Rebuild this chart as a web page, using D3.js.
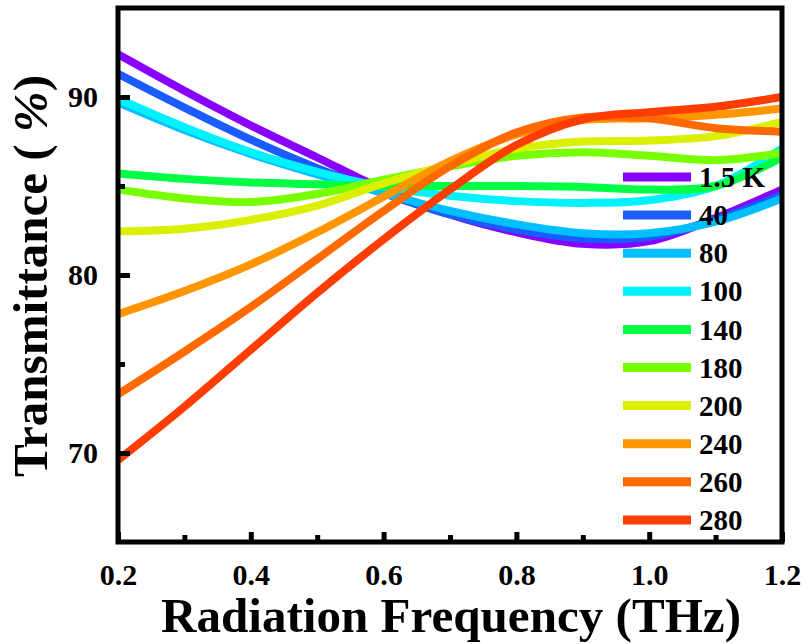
<!DOCTYPE html>
<html>
<head>
<meta charset="utf-8">
<script src="https://cdn.jsdelivr.net/npm/d3@7"></script>
<style>
  body { margin: 0; background: #fff; }
</style>
</head>
<body>
<div id="chart-area"></div>
<script>
// frequency points (THz)
var freq = [0.2, 0.3, 0.4, 0.5, 0.6, 0.7, 0.8, 0.9, 1.0, 1.1, 1.2];

// transmittance (%) for each temperature
var t1_5 = [92.4, 90.35, 88.4, 86.6, 84.8, 83.4, 82.4, 81.75, 81.9, 83.2, 84.8];
var t40  = [91.3, 89.4, 87.6, 86.0, 84.6, 83.4, 82.55, 82.05, 82.15, 83.1, 84.5];
var t80  = [89.7, 88.15, 86.8, 85.65, 84.6, 83.6, 82.85, 82.35, 82.35, 83.0, 84.3];
var t100 = [89.9, 88.3, 86.9, 85.8, 84.95, 84.45, 84.15, 84.05, 84.2, 85.0, 87.1];
var t140 = [85.7, 85.4, 85.2, 85.1, 85.0, 85.0, 85.0, 84.95, 84.8, 85.0, 86.6];
var t180 = [84.8, 84.3, 84.1, 84.55, 85.35, 86.1, 86.7, 86.9, 86.7, 86.45, 86.85];
var t200 = [82.45, 82.6, 83.1, 83.9, 85.15, 86.2, 87.1, 87.5, 87.55, 87.8, 88.6];
var t240 = [77.8, 79.1, 80.6, 82.4, 84.4, 86.4, 87.9, 88.7, 88.8, 89.0, 89.35];
var t260 = [73.3, 75.7, 78.2, 80.9, 83.6, 86.1, 88.0, 88.85, 88.8, 88.25, 88.05];
var t280 = [69.6, 72.6, 75.8, 79.0, 82.0, 84.8, 87.3, 88.75, 89.15, 89.45, 90.0];

var labels = ["1.5 K", "40", "80", "100", "140", "180", "200", "240", "260", "280"];
var series = [t1_5, t40, t80, t100, t140, t180, t200, t240, t260, t280];
var colors = ["#8800ff", "#1a5cff", "#00bfff", "#00f2ff", "#00ff44",
              "#77ff00", "#daf000", "#ff9500", "#ff6a00", "#ff3d00"];

var xMajor = [0.2, 0.4, 0.6, 0.8, 1.0, 1.2],
    xMinor = [0.3, 0.5, 0.7, 0.9, 1.1],
    yMajor = [70, 80, 90],
    yMinor = [75, 85];

var margin = {top: 8, right: 25, bottom: 102, left: 118},
    width = 807 - margin.left - margin.right,
    height = 644 - margin.top - margin.bottom;

var font = "'Liberation Serif', 'Times New Roman', serif";

var svg = d3.select("#chart-area")
  .append("svg")
    .attr("width", width + margin.left + margin.right)
    .attr("height", height + margin.top + margin.bottom)
  .append("g")
    .attr("transform", "translate(" + margin.left + "," + margin.top + ")");

var x = d3.scaleLinear().domain([0.2, 1.2]).range([0, width]);
var y = d3.scaleLinear().domain([65, 95]).range([height, 0]);

svg.append("clipPath").attr("id", "clip")
  .append("rect").attr("width", width).attr("height", height);

// curves
var line = d3.line()
    .x(function(d, i) { return x(freq[i]); })
    .y(function(d) { return y(d); })
    .curve(d3.curveCatmullRom.alpha(0.5));

svg.append("g")
    .attr("clip-path", "url(#clip)")
  .selectAll("path")
  .data(series)
  .enter()
  .append("path")
    .attr("d", line)
    .attr("fill", "none")
    .attr("stroke", function(d, i) { return colors[i]; })
    .attr("stroke-width", 8);

// axes (ticks point inward)
function styleAxis(g) {
  g.select(".domain").remove();
  g.selectAll(".tick line").attr("stroke", "#000").attr("stroke-width", 5);
  g.selectAll("text")
    .attr("font-family", font)
    .attr("font-weight", "bold")
    .attr("font-size", "30px")
    .attr("fill", "#000");
}

svg.append("g")
    .attr("transform", "translate(0," + height + ")")
    .call(d3.axisBottom(x).tickValues(xMajor).tickSize(-10).tickPadding(22).tickFormat(d3.format(".1f")))
    .call(styleAxis);

svg.append("g")
    .attr("transform", "translate(0," + height + ")")
    .call(d3.axisBottom(x).tickValues(xMinor).tickSize(-7).tickFormat(""))
    .call(styleAxis);

svg.append("g")
    .call(d3.axisLeft(y).tickValues(yMajor).tickSize(-12).tickPadding(20))
    .call(styleAxis);

svg.append("g")
    .call(d3.axisLeft(y).tickValues(yMinor).tickSize(-7).tickFormat(""))
    .call(styleAxis);

// frame
svg.append("rect")
    .attr("width", width)
    .attr("height", height)
    .attr("fill", "none")
    .attr("stroke", "#000")
    .attr("stroke-width", 5);

// legend
var legend = svg.append("g").attr("transform", "translate(505,169)");
var rows = legend.selectAll("g")
  .data(labels)
  .enter()
  .append("g")
    .attr("transform", function(d, i) { return "translate(0," + (i * 38.1) + ")"; });

rows.append("line")
    .attr("x1", 0).attr("x2", 68)
    .attr("stroke", function(d, i) { return colors[i]; })
    .attr("stroke-width", 9);

rows.append("text")
    .attr("x", 76)
    .attr("dy", "0.35em")
    .attr("font-family", font)
    .attr("font-weight", "bold")
    .attr("font-size", "29px")
    .text(function(d) { return d; });

// axis titles
svg.append("text")
    .attr("x", width / 2 + 1)
    .attr("y", height + 90)
    .attr("text-anchor", "middle")
    .attr("font-family", font)
    .attr("font-weight", "bold")
    .attr("font-size", "49px")
    .attr("textLength", 580)
    .attr("lengthAdjust", "spacingAndGlyphs")
    .text("Radiation Frequency (THz)");

// y title: squeeze along its length to fit the original span
var yg = svg.append("g")
    .attr("transform", "translate(-71," + (height / 2 + 1) + ") rotate(-90)");
var yt = yg.append("text")
    .attr("text-anchor", "middle")
    .attr("font-family", font)
    .attr("font-weight", "bold")
    .attr("font-size", "48px");
yt.append("tspan").text("Transmittance ( ");
yt.append("tspan").attr("font-style", "italic").text("%");
yt.append("tspan").text(")");
var ylen = yt.node().getComputedTextLength();
yt.attr("transform", "scale(" + (402 / ylen) + ",1)");
</script>
</body>
</html>
